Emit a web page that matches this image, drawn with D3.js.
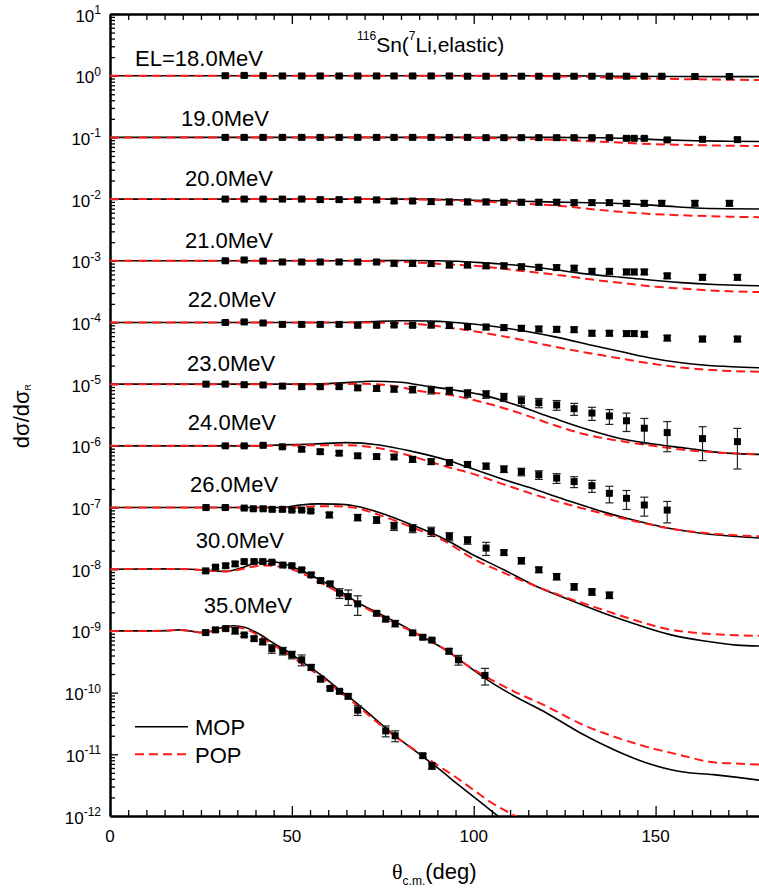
<!DOCTYPE html>
<html><head><meta charset="utf-8">
<script src="https://cdn.jsdelivr.net/npm/d3@7"></script>
<style>body{margin:0;background:#fff}svg{display:block;font-family:"Liberation Sans",Arial,sans-serif}</style>
</head><body><svg id="c" width="759" height="890"></svg>
<script>
// ---------------- DATA ----------------
const energyLabels = ["EL=18.0MeV","19.0MeV","20.0MeV","21.0MeV","22.0MeV","23.0MeV","24.0MeV","26.0MeV","30.0MeV","35.0MeV"];
const offsets = [1,1e-1,1e-2,1e-3,1e-4,1e-5,1e-6,1e-7,1e-8,1e-9];
const xTicks = [0,50,100,150];
const yTickExps = [1,0,-1,-2,-3,-4,-5,-6,-7,-8,-9,-10,-11,-12];
const legendNames = ["MOP","POP"];

// experimental angles (deg, c.m.)
const ang18 = [31.7,36.9,42.1,47.4,52.7,57.8,63.0,68.1,73.3,78.1,83.2,88.3,93.3,98.3,103.4,108.3,113.1,117.9,122.8,127.6,132.5,137.3,142.0,146.9,151.7,160.8,170.3];
const ang19 = [31.7,36.9,42.1,47.4,52.7,57.8,63.0,68.1,73.3,78.1,83.2,88.3,93.3,98.3,103.4,108.3,113.1,117.9,122.8,127.6,132.5,137.3,142.0,144.1,146.9,153.2,162.9,172.5];
const ang20 = ang18, ang21 = ang19, ang22 = ang19;
const ang23 = [26.4,31.7,36.9,42.1,47.4,52.7,57.8,63.0,68.1,73.3,78.1,83.2,88.3,93.3,98.3,103.4,108.3,113.1,117.9,122.8,127.6,132.5,137.3,142.0,146.9,153.2,162.9,172.5];
const ang24 = [31.7,36.9,42.1,47.4,52.7,57.8,63.0,68.1,73.3,78.1,83.2,88.3,93.3,98.3,103.4,108.3,113.1,117.9,122.8,127.6,132.5,137.3,142.0,146.9,153.2];
const ang26 = [26.4,31.7,36.9,39.4,42.1,44.6,47.4,50.0,52.7,55.2,60.3,68.1,73.3,78.1,83.2,88.3,93.3,98.3,103.4,108.3,113.1,117.9,122.8,127.6,132.5,137.3];
const ang30 = [26.3,29.0,31.8,34.4,36.9,39.6,42.0,44.5,47.5,50.0,52.7,55.3,57.9,60.5,63.1,65.5,68.1,73.3,75.8,78.4,83.2,86.0,88.5,93.2,95.8,103.1];
const ang35 = [26.3,29.0,31.8,34.4,36.9,39.6,42.0,44.5,47.5,50.0,52.7,55.3,57.9,60.5,63.1,65.5,68.1,75.8,78.4,86.0,88.5];

// experimental ratios sigma/sigma_R (before the 10^-n offset)
const v18 = [1.00,1.01,1.00,0.99,0.99,0.99,0.99,0.99,0.99,0.99,0.99,0.99,0.99,0.98,0.98,0.98,0.98,0.98,0.98,0.98,0.98,0.98,0.98,0.98,0.98,0.97,0.97];
const v19 = [1.00,1.00,1.00,1.00,1.00,1.00,1.00,1.00,1.00,1.00,1.00,1.00,1.00,1.00,0.99,0.99,0.99,0.99,0.99,0.99,0.99,0.99,0.965,0.965,0.965,0.91,0.93,0.92];
const v20 = [1.00,1.00,1.00,1.00,1.00,0.98,0.98,0.97,0.97,0.93,0.93,0.91,0.90,0.90,0.90,0.89,0.89,0.89,0.89,0.875,0.875,0.875,0.855,0.855,0.855,0.855,0.855];
const v21 = [1.00,1.03,0.99,0.955,0.955,0.955,0.955,0.955,0.955,0.91,0.91,0.90,0.855,0.855,0.83,0.83,0.80,0.785,0.775,0.76,0.675,0.675,0.66,0.66,0.66,0.57,0.54,0.54];
const v22 = [1.00,1.02,0.98,0.93,0.93,0.93,0.93,0.90,0.90,0.91,0.90,0.91,0.89,0.855,0.845,0.825,0.805,0.785,0.775,0.765,0.67,0.67,0.66,0.66,0.645,0.56,0.54,0.54];
const v23 = [1.00,1.00,0.98,0.97,0.93,0.91,0.91,0.91,0.87,0.85,0.83,0.82,0.805,0.785,0.71,0.685,0.615,0.54,0.50,0.46,0.40,0.34,0.305,0.255,0.193,0.164,0.131,0.117];
const v24 = [1.00,1.00,1.02,0.965,0.88,0.805,0.76,0.69,0.67,0.66,0.605,0.555,0.535,0.50,0.47,0.42,0.38,0.34,0.30,0.263,0.226,0.17,0.141,0.11,0.091];
const v26 = [1.00,1.00,0.98,0.955,0.955,0.935,0.935,0.91,0.91,0.88,0.76,0.69,0.63,0.50,0.46,0.41,0.34,0.295,0.22,0.186,0.138,0.098,0.076,0.052,0.043,0.038];
const v30 = [0.94,1.08,1.14,1.22,1.33,1.33,1.33,1.30,1.17,1.14,0.975,0.81,0.655,0.58,0.41,0.36,0.275,0.193,0.155,0.132,0.093,0.079,0.071,0.047,0.034,0.019];
const v35 = [0.94,1.04,1.09,1.01,0.86,0.75,0.665,0.516,0.474,0.41,0.34,0.257,0.166,0.117,0.105,0.087,0.052,0.024,0.020,0.0095,0.0065];

// relative errors
const e18 = [0.06,0.06,0.06,0.06,0.06,0.06,0.06,0.06,0.06,0.06,0.06,0.06,0.06,0.06,0.06,0.06,0.06,0.06,0.06,0.06,0.06,0.06,0.06,0.06,0.06,0.06,0.06];
const e19 = [0.06,0.06,0.06,0.06,0.06,0.06,0.06,0.06,0.06,0.06,0.06,0.06,0.06,0.06,0.06,0.06,0.06,0.06,0.06,0.06,0.06,0.06,0.06,0.06,0.06,0.06,0.06,0.06];
const e20 = [0.06,0.06,0.06,0.06,0.06,0.06,0.06,0.06,0.06,0.06,0.06,0.10,0.10,0.10,0.10,0.10,0.10,0.10,0.10,0.10,0.10,0.10,0.10,0.10,0.10,0.10,0.10];
const e21 = [0.06,0.06,0.06,0.06,0.06,0.06,0.06,0.06,0.06,0.10,0.10,0.10,0.10,0.10,0.10,0.10,0.10,0.10,0.10,0.10,0.10,0.10,0.10,0.10,0.10,0.10,0.10,0.10];
const e22 = [0.06,0.06,0.06,0.06,0.06,0.06,0.06,0.06,0.06,0.06,0.06,0.10,0.10,0.10,0.10,0.10,0.10,0.10,0.10,0.10,0.10,0.10,0.10,0.10,0.10,0.10,0.10,0.10];
const e23 = [0.05,0.05,0.05,0.05,0.06,0.06,0.06,0.06,0.08,0.10,0.10,0.12,0.14,0.13,0.14,0.14,0.15,0.18,0.17,0.18,0.22,0.24,0.27,0.33,0.44,0.51,0.56,0.64];
const e24 = [0.05,0.05,0.05,0.06,0.07,0.08,0.08,0.08,0.08,0.08,0.10,0.10,0.10,0.10,0.11,0.12,0.14,0.16,0.18,0.20,0.22,0.30,0.34,0.34,0.38];
const e26 = [0.05,0.05,0.05,0.05,0.05,0.05,0.05,0.05,0.05,0.05,0.10,0.12,0.12,0.15,0.15,0.17,0.15,0.14,0.24,0.10,0.12,0.10,0.12,0.12,0.12,0.12];
const e30 = [0.06,0.06,0.08,0.08,0.06,0.06,0.06,0.06,0.06,0.06,0.06,0.08,0.08,0.08,0.18,0.28,0.35,0.08,0.08,0.12,0.08,0.06,0.06,0.10,0.18,0.30];
const e35 = [0.06,0.06,0.06,0.12,0.06,0.08,0.10,0.16,0.14,0.14,0.20,0.10,0.10,0.06,0.06,0.08,0.18,0.20,0.20,0.08,0.12];

// MOP calculation (angle nodes, ratio)
const mopA18 = [0,110,125,140,155,170,180];
const mop18  = [1,1,0.993,0.982,0.973,0.966,0.964];
const mopA19 = [0,120,135,142,152,161,170,180];
const mop19  = [1,1,0.989,0.966,0.912,0.881,0.867,0.859];
const mopA20 = [0,85,100,113,123,132,142,152,161,170,180];
const mop20  = [1,1,0.955,0.923,0.891,0.871,0.836,0.776,0.715,0.695,0.689];
const mopA21 = [0,70,80,90,102,113,123,129,142,157,166,178,180];
const mop21  = [1,1,1.012,1,0.933,0.832,0.708,0.631,0.531,0.442,0.412,0.394,0.393];
const mopA22 = [0,60,70,80,88,95,103.5,113,122,134,141,149,156,163,171,180];
const mop22  = [1,1,1.023,1.067,1.059,1,0.891,0.741,0.589,0.407,0.331,0.263,0.226,0.204,0.191,0.184];
const mopA23 = [0,55,65,72,80,85,94,103.5,112.7,121.9,131.1,140.2,149.4,158.6,167.7,180];
const mop23  = [1,1,1.059,1.114,1.072,0.970,0.813,0.646,0.437,0.282,0.186,0.132,0.107,0.0912,0.0776,0.0724];
const mopA24 = [0,40,47,56,65,74,83.4,92.6,99,108,117.3,126.5,135.6,145,154,163,172.3,180];
const mop24  = [1,1,1.035,1.072,1.127,1.035,0.805,0.589,0.437,0.288,0.193,0.126,0.0851,0.0603,0.0457,0.0380,0.0339,0.0316];
const mopA26 = [0,40,47,52,57,62,67,74,83.4,92.6,99,108,117.3,126.5,135.6,145,154,163,172.3,180];
const mop26  = [1,1,1,1.096,1.148,1.135,1.072,0.832,0.513,0.295,0.182,0.1,0.0525,0.0316,0.0195,0.0126,0.00871,0.00692,0.00589,0.00569];
const mopA30 = [0,15,22,28,32,36,40,43.5,47,50,54,58.6,63,67.8,74,80,86,92.6,98,104.5,111,120,129.2,138.4,147.6,156.7,165.9,172,180];
const mop30  = [1,1.012,1,0.944,0.923,1.047,1.259,1.349,1.259,1.096,0.871,0.631,0.447,0.295,0.191,0.126,0.0794,0.0479,0.0282,0.0151,0.00891,0.00468,0.00224,0.00120,0.000724,0.000525,0.000468,0.000427,0.000372];
const mopA35 = [0,10,16,19,22,25,28,31,34,37,41,45,49.5,54,58.6,63,67.8,72.4,77,81.5,86.1,90.7,95.3,100,104.5,112];
const mop35  = [1,1,1.012,1.038,1,0.944,1,1.148,1.216,1.148,0.891,0.631,0.437,0.282,0.182,0.112,0.0676,0.0398,0.0234,0.0145,0.00912,0.00562,0.00339,0.00204,0.00126,0.000562];

// POP calculation
const popA18 = [0,100,115,130,145,160,180];
const pop18  = [1,1,0.986,0.96,0.912,0.875,0.851];
const popA19 = [0,90,102,115,123,135,142,150,157,168,180];
const pop19  = [1,1,0.977,0.944,0.912,0.851,0.813,0.776,0.759,0.736,0.724];
const popA20 = [0,74,90,102,113,123,132,142,152,161,170,180];
const pop20  = [1,1,0.966,0.912,0.851,0.782,0.692,0.610,0.562,0.537,0.519,0.507];
const popA21 = [0,65,75,85,93,102,111,123,132,142,150,157,168,180];
const pop21  = [1,1,0.977,0.933,0.871,0.813,0.708,0.589,0.501,0.427,0.380,0.355,0.324,0.309];
const popA22 = [0,65,75,85,94,103.5,113,122,131,140,149,158.6,168,180];
const pop22  = [1,1,0.989,0.933,0.813,0.668,0.525,0.407,0.324,0.263,0.214,0.182,0.166,0.158];
const popA23 = [0,60,70,78,85,94,103.5,112.7,121.9,131.1,140.2,149.4,158.6,167.7,180];
const pop23  = [1,1,1.012,0.933,0.776,0.661,0.490,0.339,0.219,0.151,0.120,0.100,0.0851,0.0776,0.0724];
const popA24 = [0,45,55,65,74,83.4,92.6,99,108,117.3,126.5,135.6,145,154,163,172,180];
const pop24  = [1,1,1.023,1.023,0.912,0.668,0.457,0.363,0.240,0.158,0.110,0.0794,0.0589,0.0457,0.0389,0.0355,0.0339];
const popA26 = [0,40,50,57,62,67,74,83.4,92.6,99,108,117.3,126.5,135.6,145,154,163,172,180];
const pop26  = [1,1,1,1.047,1.047,1,0.759,0.468,0.275,0.158,0.0891,0.0525,0.0331,0.0219,0.0145,0.0105,0.00912,0.00851,0.00832];
const popA30 = [0,15,22,28,32,36,40,43.5,47,50,54,58.6,63,67.8,74,80,86,92.6,98,104.5,111,120,129.2,138.4,147.6,156.7,165.9,172,180];
const pop30  = [1,1.012,1,0.944,0.923,1,1.122,1.148,1.096,1,0.794,0.575,0.417,0.282,0.182,0.120,0.0794,0.0479,0.0282,0.0166,0.0105,0.00603,0.00316,0.00195,0.00132,0.000977,0.000741,0.000708,0.000676];
const popA35 = [0,10,16,19,22,25,28,31,34,37,41,45,49.5,54,58.6,63,67.8,72.4,77,81.5,86.1,90.7,95.3,100,104.5,111.4,115];
const pop35  = [1,1,1.012,1.038,1,0.944,0.989,1.096,1.148,1.084,0.832,0.589,0.398,0.263,0.170,0.105,0.0631,0.0372,0.0224,0.0145,0.00955,0.00631,0.00417,0.00263,0.00170,0.001,0.000759];

// ---------------- LAYOUT ----------------
const labelAngle = [6.9,19.5,20.6,20.6,21.4,21.2,21.4,22.0,23.6,25.8];
const labelRise  = [9.7,11.4,13.0,12.8,15.8,13.2,15.9,15.9,21.0,17.7];
const FONT = '"Liberation Sans",Arial,sans-serif';
const RED = "#ff1a1a";

const series = [
  [ang18,v18,e18,mopA18,mop18,popA18,pop18],
  [ang19,v19,e19,mopA19,mop19,popA19,pop19],
  [ang20,v20,e20,mopA20,mop20,popA20,pop20],
  [ang21,v21,e21,mopA21,mop21,popA21,pop21],
  [ang22,v22,e22,mopA22,mop22,popA22,pop22],
  [ang23,v23,e23,mopA23,mop23,popA23,pop23],
  [ang24,v24,e24,mopA24,mop24,popA24,pop24],
  [ang26,v26,e26,mopA26,mop26,popA26,pop26],
  [ang30,v30,e30,mopA30,mop30,popA30,pop30],
  [ang35,v35,e35,mopA35,mop35,popA35,pop35]
].map((s,i)=>({
  label: energyLabels[i], off: offsets[i],
  pts: s[0].map((a,j)=>({a, v:s[1][j]*offsets[i], e:s[2][j]*s[1][j]*offsets[i]})),
  mop: s[3].map((a,j)=>({a, v:s[4][j]*offsets[i]})),
  pop: s[5].map((a,j)=>({a, v:s[6][j]*offsets[i]}))
}));

const svg = d3.select("#c");
const x = d3.scaleLinear().domain([0,180]).range([110,764.7]);
const y = d3.scaleLog().domain([1e-12,10]).range([816,14]);

svg.append("defs").append("clipPath").attr("id","clip")
  .append("rect").attr("x",x(0)).attr("y",y(10)).attr("width",x(180)-x(0)).attr("height",y(1e-12)-y(10));

// ---------------- AXES ----------------
const minorX = d3.range(0,181,5).filter(d=>d%50!==0);
function styleAxis(g){ g.selectAll("path.domain").attr("stroke","#000").attr("stroke-width",2);
  g.selectAll(".tick line").attr("stroke","#000").attr("stroke-width",1.3); g.selectAll("text").remove(); }

svg.append("g").attr("transform",`translate(0,${y(1e-12)})`)
  .call(d3.axisBottom(x).tickValues(xTicks).tickSize(-10).tickSizeOuter(0)).call(styleAxis);
svg.append("g").attr("transform",`translate(0,${y(1e-12)})`)
  .call(d3.axisBottom(x).tickValues(minorX).tickSize(-6).tickSizeOuter(0)).call(styleAxis);
svg.append("g").attr("transform",`translate(0,${y(10)})`)
  .call(d3.axisTop(x).tickValues(xTicks).tickSize(-10).tickSizeOuter(0)).call(styleAxis);
svg.append("g").attr("transform",`translate(0,${y(10)})`)
  .call(d3.axisTop(x).tickValues(minorX).tickSize(-6).tickSizeOuter(0)).call(styleAxis);

const majorY = yTickExps.map(e=>Math.pow(10,e));
const minorY = [];
yTickExps.slice(1).forEach(e=>{ for(let k=2;k<=9;k++) minorY.push(k*Math.pow(10,e)); });
svg.append("g").attr("transform",`translate(${x(0)},0)`)
  .call(d3.axisLeft(y).tickValues(majorY).tickSize(-8).tickSizeOuter(0)).call(styleAxis);
svg.append("g").attr("transform",`translate(${x(0)},0)`)
  .call(d3.axisLeft(y).tickValues(minorY).tickSize(-5).tickSizeOuter(0)).call(styleAxis);

// tick labels
svg.append("g").selectAll("text").data(xTicks).join("text")
  .attr("x",d=>x(d)).attr("y",y(1e-12)+26).attr("text-anchor","middle")
  .attr("font-size",17).attr("font-family",FONT).text(d=>d);

const yl = svg.append("g").selectAll("text").data(yTickExps).join("text")
  .attr("x",101).attr("y",d=>y(Math.pow(10,d))+7.5).attr("text-anchor","end")
  .attr("font-family",FONT).attr("font-size",17);
yl.append("tspan").text("10");
yl.append("tspan").attr("font-size",12).attr("dy",-7.5).text(d=>String(d));

// axis titles
const xt = svg.append("text").attr("x",392).attr("y",879).attr("font-family",FONT).attr("font-size",22);
xt.append("tspan").attr("font-family",'"Liberation Serif","Times New Roman",serif').text("θ");
xt.append("tspan").attr("font-size",12).attr("dy",6).text("c.m.");
xt.append("tspan").attr("dy",-6).text("(deg)");

const yt = svg.append("text").attr("transform","translate(29,416) rotate(-90)")
  .attr("text-anchor","middle").attr("font-family",FONT).attr("font-size",22);
yt.append("tspan").text("dσ/dσ");
yt.append("tspan").attr("font-size",9).attr("dy",2).text("R");

// title
const tt = svg.append("text").attr("x",357).attr("y",52).attr("font-family",FONT).attr("font-size",21);
tt.append("tspan").attr("font-size",12).attr("dy",-12).text("116");
tt.append("tspan").attr("dy",12).text("Sn(");
tt.append("tspan").attr("font-size",12).attr("dy",-12).text("7");
tt.append("tspan").attr("dy",12).text("Li,elastic)");

// ---------------- CURVES ----------------
const line = d3.line().x(d=>x(d.a)).y(d=>y(d.v)).curve(d3.curveMonotoneX);
const plot = svg.append("g").attr("clip-path","url(#clip)");
plot.selectAll("path.mop").data(series).join("path").attr("class","mop")
  .attr("d",d=>line(d.mop)).attr("fill","none").attr("stroke","#000").attr("stroke-width",1.6);
plot.selectAll("path.pop").data(series).join("path").attr("class","pop")
  .attr("d",d=>line(d.pop)).attr("fill","none").attr("stroke",RED).attr("stroke-width",2).attr("stroke-dasharray","9,5");

// ---------------- DATA POINTS ----------------
const allPts = series.flatMap(s=>s.pts);
const eb = plot.append("g").attr("stroke","#222").attr("stroke-width",1.2);
eb.selectAll("line.v").data(allPts).join("line")
  .attr("x1",d=>x(d.a)).attr("x2",d=>x(d.a)).attr("y1",d=>y(d.v+d.e)).attr("y2",d=>y(Math.max(d.v-d.e,1e-13)));
eb.selectAll("line.t").data(allPts).join("line")
  .attr("x1",d=>x(d.a)-4).attr("x2",d=>x(d.a)+4).attr("y1",d=>y(d.v+d.e)).attr("y2",d=>y(d.v+d.e));
eb.selectAll("line.b").data(allPts).join("line")
  .attr("x1",d=>x(d.a)-4).attr("x2",d=>x(d.a)+4).attr("y1",d=>y(d.v-d.e)).attr("y2",d=>y(d.v-d.e));
plot.append("g").selectAll("rect").data(allPts).join("rect")
  .attr("x",d=>x(d.a)-3.5).attr("y",d=>y(d.v)-3.5).attr("width",7).attr("height",7).attr("fill","#000");

// ---------------- ENERGY LABELS ----------------
svg.append("g").selectAll("text").data(series).join("text")
  .attr("x",(d,i)=>x(labelAngle[i])).attr("y",(d,i)=>y(d.off)-labelRise[i])
  .attr("font-family",FONT).attr("font-size",22).text(d=>d.label);

// ---------------- LEGEND ----------------
const lg = svg.append("g");
const legY = [726.7,754.3];
lg.selectAll("line").data(legendNames).join("line")
  .attr("x1",135).attr("x2",188).attr("y1",(d,i)=>legY[i]).attr("y2",(d,i)=>legY[i])
  .attr("stroke",(d,i)=>i?RED:"#000").attr("stroke-width",(d,i)=>i?2:1.6)
  .attr("stroke-dasharray",(d,i)=>i?"9,5":null);
lg.selectAll("text").data(legendNames).join("text")
  .attr("x",195).attr("y",(d,i)=>legY[i]+8.5).attr("font-family",FONT).attr("font-size",22).text(d=>d);
</script></body></html>
